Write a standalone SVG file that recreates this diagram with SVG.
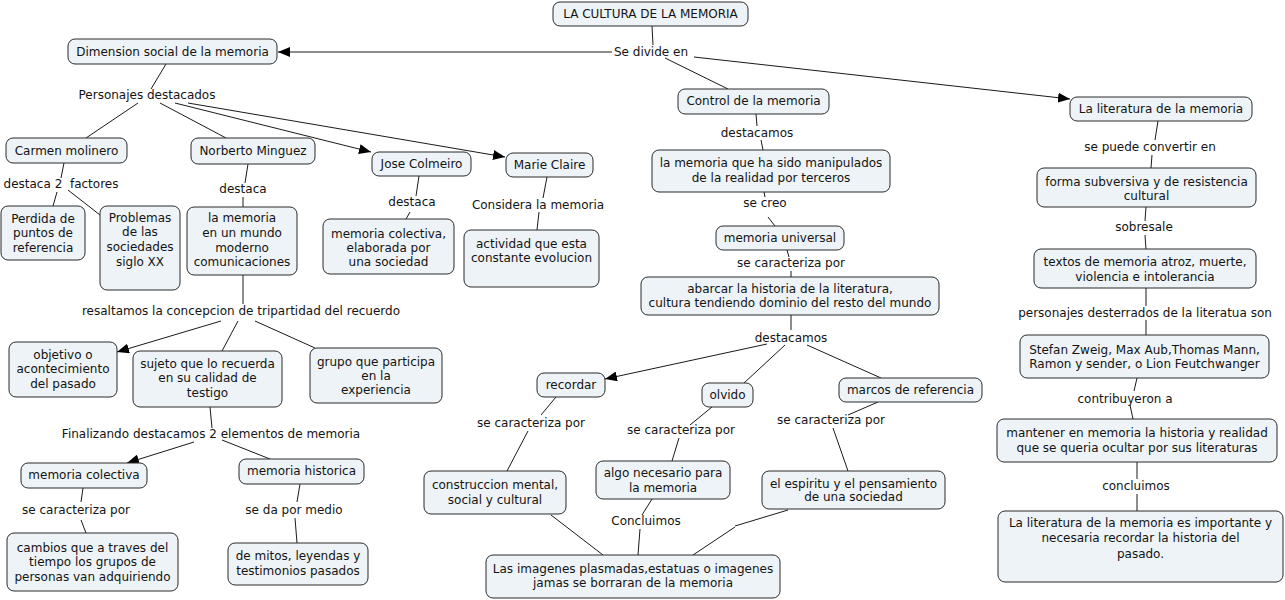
<svg xmlns="http://www.w3.org/2000/svg" width="1285" height="600" viewBox="0 0 1285 600">
<style>
  .n rect { fill: #edf3f6; stroke: #2a2a2a; stroke-width: 1; rx: 7px; ry: 7px; }
  text { font-family: "DejaVu Sans", Verdana, sans-serif; font-size: 12px; fill: #141414; text-anchor: middle; }
  .lbl { white-space: pre; }
  #connectors line { stroke: #1a1a1a; stroke-width: 1; fill: none; }
  #connectors line.a { marker-end: url(#arr); }
</style>
<defs>
  <marker id="arr" viewBox="0 0 12 10" refX="12" refY="5" markerWidth="12" markerHeight="10" markerUnits="userSpaceOnUse" orient="auto">
    <path d="M0,0 L12,5 L0,10 z" fill="#000"/>
  </marker>
</defs>
<rect width="1285" height="600" fill="#fff"/>

<g id="connectors">
  <line x1="652" y1="26" x2="653" y2="45"/>
  <line class="a" x1="612" y1="52" x2="278" y2="52"/>
  <line x1="665" y1="58" x2="728" y2="89"/>
  <line class="a" x1="694" y1="57" x2="1070" y2="99"/>
  <line x1="756" y1="114" x2="757" y2="126"/>
  <line x1="761" y1="140" x2="763" y2="150"/>
  <line x1="764" y1="192" x2="765" y2="197"/>
  <line x1="768" y1="217" x2="775" y2="226"/>
  <line x1="787" y1="250" x2="789" y2="257"/>
  <line x1="791" y1="271" x2="791" y2="277"/>
  <line x1="791" y1="315" x2="791" y2="330"/>
  <line class="a" x1="767" y1="344" x2="605" y2="379"/>
  <line x1="785" y1="345" x2="744" y2="383"/>
  <line x1="807" y1="345" x2="881" y2="378"/>
  <line x1="556" y1="397" x2="541" y2="415"/>
  <line x1="528" y1="431" x2="507" y2="471"/>
  <line x1="712" y1="407" x2="690" y2="425"/>
  <line x1="679" y1="438" x2="672" y2="461"/>
  <line x1="878" y1="402" x2="848" y2="415"/>
  <line x1="833" y1="428" x2="848" y2="471"/>
  <line x1="652" y1="499" x2="642" y2="515"/>
  <line x1="640" y1="529" x2="638" y2="555"/>
  <line x1="551" y1="515" x2="603" y2="555"/>
  <line x1="788" y1="510" x2="735" y2="526"/>
  <line x1="735" y1="527" x2="693" y2="555"/>
  <line x1="166" y1="64" x2="151" y2="89"/>
  <line x1="138" y1="103" x2="86" y2="138"/>
  <line x1="160" y1="103" x2="226" y2="138"/>
  <line class="a" x1="175" y1="103" x2="371" y2="152"/>
  <line class="a" x1="188" y1="103" x2="505" y2="157"/>
  <line x1="64" y1="163" x2="61" y2="178"/>
  <line x1="57" y1="192" x2="53" y2="206"/>
  <line x1="68" y1="190" x2="100" y2="215"/>
  <line x1="248" y1="164" x2="245" y2="183"/>
  <line x1="243" y1="197" x2="243" y2="207"/>
  <line x1="243" y1="275" x2="243" y2="304"/>
  <line class="a" x1="221" y1="321" x2="117" y2="352"/>
  <line x1="238" y1="321" x2="222" y2="351"/>
  <line x1="255" y1="321" x2="315" y2="348"/>
  <line x1="210" y1="407" x2="212" y2="428"/>
  <line class="a" x1="194" y1="442" x2="127" y2="463"/>
  <line x1="222" y1="440" x2="270" y2="459"/>
  <line x1="83" y1="488" x2="81" y2="502"/>
  <line x1="81" y1="520" x2="86" y2="533"/>
  <line x1="300" y1="484" x2="297" y2="502"/>
  <line x1="295" y1="518" x2="297" y2="543"/>
  <line x1="419" y1="176" x2="416" y2="196"/>
  <line x1="410" y1="212" x2="406" y2="219"/>
  <line x1="547" y1="177" x2="543" y2="198"/>
  <line x1="539" y1="212" x2="537" y2="230"/>
  <line x1="1158" y1="121" x2="1155" y2="140"/>
  <line x1="1152" y1="155" x2="1151" y2="168"/>
  <line x1="1146" y1="207" x2="1145" y2="221"/>
  <line x1="1145" y1="235" x2="1146" y2="249"/>
  <line x1="1146" y1="288" x2="1146" y2="306"/>
  <line x1="1146" y1="320" x2="1146" y2="335"/>
  <line x1="1137" y1="378" x2="1134" y2="391"/>
  <line x1="1130" y1="405" x2="1133" y2="419"/>
  <line x1="1137" y1="462" x2="1137" y2="479"/>
  <line x1="1137" y1="494" x2="1137" y2="511"/>
</g>

<g id="labels">
  <text x="651" y="56">Se divide en</text>
  <text x="757" y="137">destacamos</text>
  <text x="765" y="207">se creo</text>
  <text x="791" y="267">se caracteriza por</text>
  <text x="791" y="342">destacamos</text>
  <text x="531" y="427">se caracteriza por</text>
  <text x="681" y="434">se caracteriza por</text>
  <text x="831" y="424">se caracteriza por</text>
  <text x="646" y="525">Concluimos</text>
  <text x="147" y="99">Personajes destacados</text>
  <text class="lbl" x="61" y="188">destaca 2  factores</text>
  <text x="243" y="193">destaca</text>
  <text x="241" y="315">resaltamos la concepcion de tripartidad del recuerdo</text>
  <text x="211" y="438">Finalizando destacamos 2 elementos de memoria</text>
  <text x="76" y="514">se caracteriza por</text>
  <text x="294" y="514">se da por medio</text>
  <text x="412" y="206">destaca</text>
  <text x="538" y="209">Considera la memoria</text>
  <text x="1150" y="151">se puede convertir en</text>
  <text x="1144" y="231">sobresale</text>
  <text x="1145" y="317">personajes desterrados de la literatua son</text>
  <text x="1125" y="403">contribuyeron a</text>
  <text x="1136" y="490">concluimos</text>
</g>

<g id="n1" class="n"><rect x="553" y="2" width="195" height="24"/><text x="650.5" y="18">LA CULTURA DE LA MEMORIA</text></g>
<g id="n2" class="n"><rect x="68" y="39" width="209" height="25"/><text x="172.5" y="56">Dimension social de la memoria</text></g>
<g id="n3" class="n"><rect x="678" y="89" width="151" height="25"/><text x="753.5" y="105">Control de la memoria</text></g>
<g id="n4" class="n"><rect x="652" y="150" width="238" height="42"/><text x="771" y="167">la memoria que ha sido manipulados</text><text x="771" y="182">de la realidad por terceros</text></g>
<g id="n5" class="n"><rect x="716" y="226" width="128" height="24"/><text x="780" y="242">memoria universal</text></g>
<g id="n6" class="n"><rect x="641" y="277" width="298" height="38"/><text x="790" y="293">abarcar la historia de la literatura,</text><text x="790" y="307">cultura tendiendo dominio del resto del mundo</text></g>
<g id="n7" class="n"><rect x="537" y="373" width="68" height="24"/><text x="571" y="389">recordar</text></g>
<g id="n8" class="n"><rect x="702" y="383" width="51" height="24"/><text x="727.5" y="399">olvido</text></g>
<g id="n9" class="n"><rect x="839" y="378" width="143" height="24"/><text x="910.5" y="394">marcos de referencia</text></g>
<g id="n10" class="n"><rect x="424" y="471" width="142" height="43"/><text x="495" y="489">construccion mental,</text><text x="495" y="504">social y cultural</text></g>
<g id="n11" class="n"><rect x="596" y="461" width="134" height="38"/><text x="663" y="477">algo necesario para</text><text x="663" y="492">la memoria</text></g>
<g id="n12" class="n"><rect x="762" y="471" width="183" height="38"/><text x="853.5" y="488">el espiritu y el pensamiento</text><text x="853.5" y="501">de una sociedad</text></g>
<g id="n13" class="n"><rect x="486" y="555" width="294" height="43"/><text x="633" y="573">Las imagenes plasmadas,estatuas o imagenes</text><text x="633" y="587">jamas se borraran de la memoria</text></g>
<g id="n14" class="n"><rect x="6" y="138" width="121" height="25"/><text x="66.5" y="155">Carmen molinero</text></g>
<g id="n15" class="n"><rect x="191" y="138" width="124" height="26"/><text x="253" y="155">Norberto Minguez</text></g>
<g id="n16" class="n"><rect x="372" y="152" width="99" height="24"/><text x="421.5" y="168">Jose Colmeiro</text></g>
<g id="n17" class="n"><rect x="506" y="153" width="87" height="24"/><text x="549.5" y="169">Marie Claire</text></g>
<g id="n18" class="n"><rect x="1" y="206" width="84" height="54"/><text x="43" y="223">Perdida de</text><text x="43" y="237">puntos de</text><text x="43" y="252">referencia</text></g>
<g id="n19" class="n"><rect x="100" y="206" width="80" height="84"/><text x="140" y="222">Problemas</text><text x="140" y="236">de las</text><text x="140" y="251">sociedades</text><text x="140" y="266">siglo XX</text></g>
<g id="n20" class="n"><rect x="187" y="207" width="110" height="68"/><text x="242" y="222">la memoria</text><text x="242" y="237">en un mundo</text><text x="242" y="252">moderno</text><text x="242" y="266">comunicaciones</text></g>
<g id="n21" class="n"><rect x="323" y="219" width="131" height="55"/><text x="388.5" y="238">memoria colectiva,</text><text x="388.5" y="252">elaborada por</text><text x="388.5" y="266">una sociedad</text></g>
<g id="n22" class="n"><rect x="464" y="230" width="135" height="57"/><text x="531.5" y="248">actividad que esta</text><text x="531.5" y="262">constante evolucion</text></g>
<g id="n23" class="n"><rect x="9" y="342" width="108" height="55"/><text x="63" y="359">objetivo o</text><text x="63" y="373">acontecimiento</text><text x="63" y="388">del pasado</text></g>
<g id="n24" class="n"><rect x="133" y="351" width="149" height="56"/><text x="207.5" y="368">sujeto que lo recuerda</text><text x="207.5" y="382">en su calidad de</text><text x="207.5" y="397">testigo</text></g>
<g id="n25" class="n"><rect x="310" y="348" width="132" height="55"/><text x="376" y="366">grupo que participa</text><text x="376" y="380">en la</text><text x="376" y="394">experiencia</text></g>
<g id="n26" class="n"><rect x="21" y="463" width="126" height="25"/><text x="84" y="479">memoria colectiva</text></g>
<g id="n27" class="n"><rect x="239" y="459" width="125" height="25"/><text x="301.5" y="475">memoria historica</text></g>
<g id="n28" class="n"><rect x="7" y="533" width="171" height="58"/><text x="92.5" y="552">cambios que a traves del</text><text x="92.5" y="566">tiempo los grupos de</text><text x="92.5" y="581">personas van adquiriendo</text></g>
<g id="n29" class="n"><rect x="228" y="543" width="140" height="42"/><text x="298" y="560">de mitos, leyendas y</text><text x="298" y="575">testimonios pasados</text></g>
<g id="n30" class="n"><rect x="1070" y="97" width="182" height="24"/><text x="1161" y="113">La literatura de la memoria</text></g>
<g id="n31" class="n"><rect x="1037" y="168" width="219" height="39"/><text x="1146.5" y="186">forma subversiva y de resistencia</text><text x="1146.5" y="200">cultural</text></g>
<g id="n32" class="n"><rect x="1034" y="249" width="222" height="39"/><text x="1145" y="266">textos de memoria atroz, muerte,</text><text x="1145" y="281">violencia e intolerancia</text></g>
<g id="n33" class="n"><rect x="1020" y="335" width="249" height="43"/><text x="1144.5" y="354">Stefan Zweig, Max Aub,Thomas Mann,</text><text x="1144.5" y="368">Ramon y sender, o Lion Feutchwanger</text></g>
<g id="n34" class="n"><rect x="997" y="419" width="280" height="43"/><text x="1137" y="437">mantener en memoria la historia y realidad</text><text x="1137" y="452">que se queria ocultar por sus literaturas</text></g>
<g id="n35" class="n"><rect x="998" y="511" width="285" height="71"/><text x="1140.5" y="527">La literatura de la memoria es importante y</text><text x="1140.5" y="542">necesaria recordar la historia del</text><text x="1140.5" y="558">pasado.</text></g>
</svg>
